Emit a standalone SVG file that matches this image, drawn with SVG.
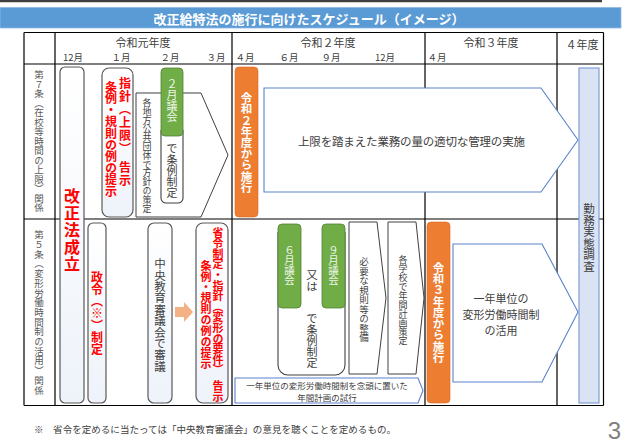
<svg xmlns="http://www.w3.org/2000/svg" width="624" height="446" viewBox="0 0 624 446">
<defs>
<linearGradient id="wg" x1="0" y1="0" x2="0" y2="1"><stop offset="0" stop-color="#ffffff"/><stop offset="1" stop-color="#eef3fa"/></linearGradient>
</defs>
<style>
text{font-family:'Noto Sans CJK JP','Noto Sans CJK SC',sans-serif;fill:#404040}
.v{writing-mode:vertical-rl}
.red{fill:#ff0000;font-weight:bold}
.wt{fill:#ffffff;font-weight:bold}
.gt{fill:#eef5e8}
.lb{fill:#595959;font-size:9.5px}
.box{fill:url(#wg);stroke:#595959;stroke-width:1.2}
.pent{fill:#ffffff;stroke:#404040;stroke-width:1}
.bpent{fill:#ffffff;stroke:#5b82cc;stroke-width:1.1}
.grn{fill:#70ad47;stroke:#548235;stroke-width:0.8}
.org{fill:#ed7d31;stroke:#d9692a;stroke-width:0.6}
.tl{stroke:#000000;stroke-width:1.2;fill:none}
.hd{font-size:11px;text-anchor:middle;dominant-baseline:central}
.mo{font-size:9.5px;text-anchor:middle;dominant-baseline:central}
.c{text-anchor:middle;dominant-baseline:central}
</style>

<g id="title">
<line x1="0" y1="1.2" x2="602" y2="1.2" stroke="#404040" stroke-width="2.2"/>
<rect x="0" y="7.5" width="621" height="20.5" fill="#5b9bd5" stroke="#8fb8e0" stroke-width="0.8"/>
<text x="309" y="18" class="c" style="fill:#ffffff;font-size:13px;font-weight:bold">改正給特法の施行に向けたスケジュール（イメージ）</text>
</g>

<g id="table">
<path class="tl" d="M24,32.5H603.5M24,64H603.5M24,219H603.5M24,405.5H603.5M24,32.5V405.5M55,32.5V405.5M232,32.5V405.5M425,32.5V405.5M557,32.5V405.5M603.5,32.5V405.5"/>
<text x="143" y="42" class="hd">令和元年度</text>
<text x="328" y="42" class="hd">令和２年度</text>
<text x="491" y="42" class="hd">令和３年度</text>
<text x="582" y="44" class="hd">４年度</text>
<text x="73" y="57" class="mo">12月</text>
<text x="121" y="57" class="mo">１月</text>
<text x="170" y="57" class="mo">２月</text>
<text x="216" y="57" class="mo">３月</text>
<text x="245" y="57" class="mo">４月</text>
<text x="289" y="57" class="mo">６月</text>
<text x="331" y="57" class="mo">９月</text>
<text x="385" y="57" class="mo">12月</text>
<text x="437" y="57" class="mo">４月</text>
<text x="39" y="70" class="v lb">第７条（在校等時間の上限）関係</text>
<text x="39" y="230" class="v lb" style="letter-spacing:0.2px">第５条（変形労働時間制の活用）関係</text>
</g>

<g id="node-kaisei">
<rect class="box" x="60" y="67" width="24" height="336" rx="5"/>
<text x="72" y="188" class="v red" style="font-size:16px;letter-spacing:1px">改正法成立</text>
</g>

<g id="node-seirei">
<rect class="box" x="88" y="223" width="18" height="180" rx="5"/>
<text x="97" y="271" class="v red" style="font-size:12px">政令（※）制定</text>
</g>

<g id="node-shishin1">
<rect class="box" x="102" y="68" width="31" height="149" rx="7"/>
<text x="125" y="77" class="v red" style="font-size:12px;letter-spacing:1px">指針（上限）<tspan y="161">告示</tspan></text>
<text x="111" y="81" class="v red" style="font-size:12px;letter-spacing:-0.4px">条例・規則の例の提示</text>
</g>

<g id="node-chiho">
<polygon class="pent" points="136,93 201,93 228,155 201,217 136,217"/>
<text x="147" y="98" class="v" style="font-size:9px;letter-spacing:-0.2px">各地方公共団体で方針の策定</text>
</g>

<g id="node-feb">
<path d="M161,130V198a5,5 0 0 0 5,5H178a5,5 0 0 0 5,-5V130" fill="#ffffff" stroke="#404040" stroke-width="1.1"/>
<rect class="grn" x="161" y="68" width="22" height="68" rx="4"/>
<text x="172" y="78" class="v gt" style="font-size:11px">２月議会</text>
<text x="172" y="143" class="v" style="font-size:11px">で条例制定</text>
</g>

<g id="node-r2">
<rect class="org" x="235" y="67" width="23" height="150" rx="4"/>
<text x="246.5" y="92" class="v wt" style="font-size:11.5px;letter-spacing:-0.3px">令和２年度から施行</text>
</g>

<g id="node-joken">
<polygon class="bpent" points="264,88 541,88 578,140 541,192 264,192"/>
<text x="298" y="141" textLength="227" lengthAdjust="spacing" style="font-size:11.5px;dominant-baseline:central">上限を踏まえた業務の量の適切な管理の実施</text>
</g>

<g id="node-kinmu">
<rect x="579" y="68" width="20" height="335" fill="#dae3f3" stroke="#7f9fd8" stroke-width="1.2"/>
<text x="589" y="203" class="v" style="font-size:11.5px">勤務実態調査</text>
</g>

<g id="node-chukyo">
<rect class="box" x="148" y="223" width="24" height="180" rx="6"/>
<text x="160" y="258" class="v" style="font-size:11.5px;letter-spacing:-0.1px">中央教育審議会で審議</text>
</g>

<g id="node-shorei">
<rect class="box" x="196" y="223" width="32" height="180" rx="7"/>
<text x="218" y="227" class="v red" style="font-size:11px;letter-spacing:-0.4px">省令制定・指針（変形の要件）<tspan y="381">告示</tspan></text>
<text x="206" y="260" class="v red" style="font-size:11px;letter-spacing:-0.1px">条例・規則の例の提示</text>
</g>

<g id="node-gikai">
<path d="M278,232V365a10,10 0 0 0 10,10H335a10,10 0 0 0 10,-10V232" fill="#ffffff" stroke="#404040" stroke-width="1.1"/>
<rect class="grn" x="278" y="224" width="23" height="84" rx="4"/>
<rect class="grn" x="322" y="224" width="23" height="84" rx="4"/>
<text x="289.5" y="245" class="v gt" style="font-size:10.5px;letter-spacing:-0.5px">６月議会</text>
<text x="333.5" y="245" class="v gt" style="font-size:10.5px;letter-spacing:-0.5px">９月議会</text>
<text x="312" y="269" class="v" style="font-size:11.5px">又は</text>
<text x="312" y="313" class="v" style="font-size:11px">で条例制定</text>
</g>

<g id="node-kisoku">
<polygon class="pent" points="349,222 377,222 386,298 377,374 349,374"/>
<text x="364" y="257" class="v" style="font-size:9.5px">必要な規則等の整備</text>
</g>

<g id="node-nenkan">
<polygon class="pent" points="388,222 416,222 424,298 416,374 388,374"/>
<text x="403" y="255" class="v" style="font-size:9px">各学校で年間計画策定</text>
</g>

<g id="node-shiko">
<path class="bpent" d="M235,378H418L423,390.5L418,403H235Z"/>
<text class="c" style="font-size:8.5px"><tspan x="327" y="384.8">一年単位の変形労働時間制を念頭に置いた</tspan><tspan x="327" y="396.8">年間計画の試行</tspan></text>
</g>

<g id="node-r3">
<rect class="org" x="427" y="222" width="23" height="181" rx="4"/>
<text x="438.5" y="262" class="v wt" style="font-size:11.5px;letter-spacing:-0.3px">令和３年度から施行</text>
</g>

<g id="node-henkei">
<polygon class="bpent" points="453,244 542,244 578,312 542,382 453,382"/>
<text class="c" style="font-size:11px"><tspan x="501" y="297.5">一年単位の</tspan><tspan x="501" y="313.5">変形労働時間制</tspan><tspan x="501" y="329.5">の活用</tspan></text>
</g>

<g id="connectors">
<polygon points="175,307 184,307 184,302 193,312 184,322 184,317 175,317" fill="#f4b183"/>
</g>

<g id="footer">
<text x="34" y="429" textLength="362" lengthAdjust="spacing" style="font-size:9.5px;dominant-baseline:central">※　省令を定めるに当たっては「中央教育審議会」の意見を聴くことを定めるもの。</text>
<text x="621" y="439" style="font-family:'Liberation Sans',sans-serif;font-size:24px;fill:#7f7f7f;text-anchor:end">3</text>
</g>
</svg>
